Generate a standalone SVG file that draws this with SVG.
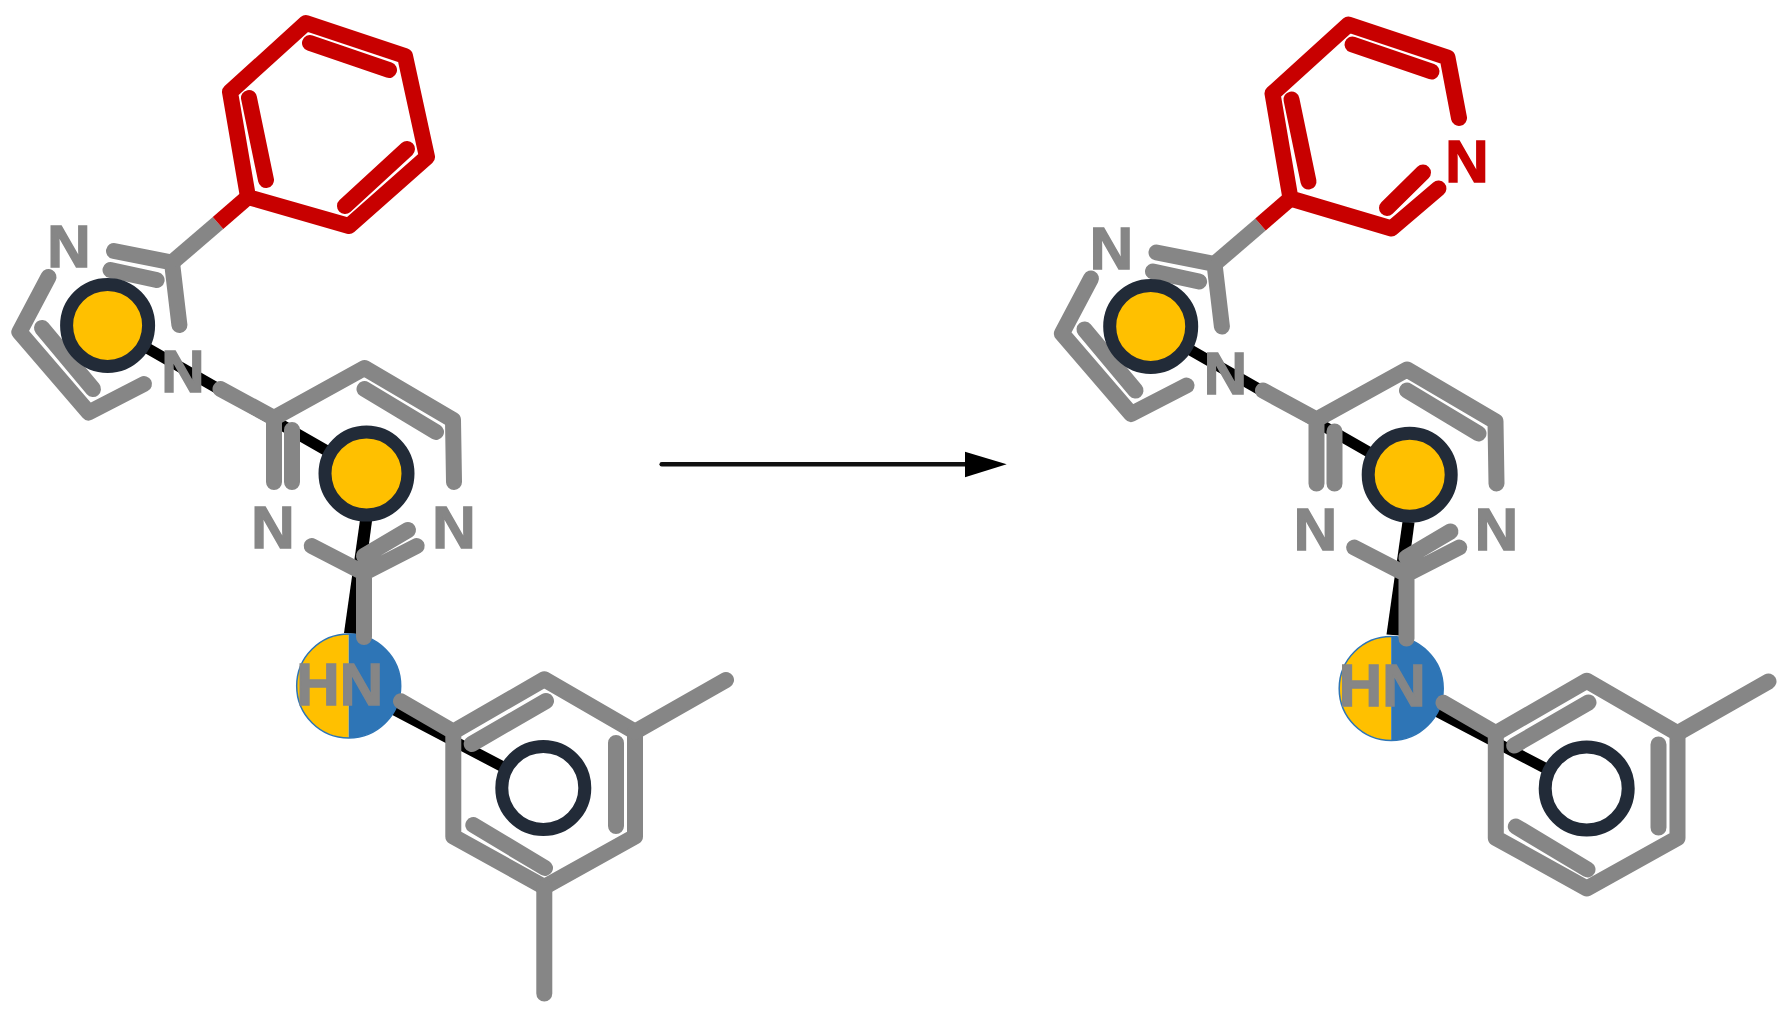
<svg xmlns="http://www.w3.org/2000/svg" width="1788" height="1010" viewBox="0 0 1788 1010">
<style>
.g{fill:none;stroke:#868686;stroke-width:16;stroke-linecap:round;stroke-linejoin:round}
.r{fill:none;stroke:#c80000;stroke-width:16;stroke-linecap:round;stroke-linejoin:round}
.b{fill:none;stroke:#868686;stroke-width:16;stroke-linecap:butt}
.k{fill:none;stroke:#000;stroke-width:11}
.w{fill:#000}
.a{font-family:"Liberation Sans",Arial,sans-serif;font-weight:bold;font-size:60px;fill:#868686;stroke:#868686;stroke-width:1.5;text-anchor:middle}
.ar{fill:#c80000;stroke:#c80000}
.h{stroke:#222b38;stroke-width:13;fill:#ffc000}
.o{stroke:#222b38;stroke-width:13;fill:#fff}
</style>
<rect width="1788" height="1010" fill="#fff"/>
<g id="connectors">
<g id="left-contacts">
<path class="k" d="M107.6 325.4L366.5 473.6M348.7 686L543.3 788"/>
<path class="w" d="M360 520L372 521L357 634L344 633Z"/>
</g>
<g id="right-contacts" transform="translate(1042.5,1.5)">
<path class="k" d="M107.6 325.4L366.5 473.6M348.7 686L543.3 788"/>
<path class="w" d="M360 520L372 521L357 634L344 633Z"/>
</g>
</g>
<g id="left-hn-site">
<path fill="#ffc000" d="M348.7 634A52 52 0 0 0 348.7 738Z"/>
<path fill="#2e75b6" d="M348.7 634A52 52 0 0 1 348.7 738Z"/>
<circle cx="348.7" cy="686" r="52" fill="none" stroke="#2e75b6" stroke-width="1.5"/>
</g>
<g id="right-hn-site" transform="translate(1042.5,2.5)">
<path fill="#ffc000" d="M348.7 634A52 52 0 0 0 348.7 738Z"/>
<path fill="#2e75b6" d="M348.7 634A52 52 0 0 1 348.7 738Z"/>
<circle cx="348.7" cy="686" r="52" fill="none" stroke="#2e75b6" stroke-width="1.5"/>
</g>
<g id="left-molecule">
<path class="g" d="M172 262.5L114 251M172 262.5L179.4 325M156.6 280L110.5 270"/>
<path class="b" d="M172 262.5L218 223"/>
<path class="r" d="M248 197L349 226L427 157L405 56L306 23L230 92L248 197"/>
<path class="r" d="M310 43L389 70M249 98L266 180M407 149L345 206"/>
<path class="r" style="stroke-linecap:butt" d="M218 223L248 197"/>
<path class="g" d="M48.5 277L19.4 332L88.7 412.5L144 384M42 328L93 389"/>
<path class="g" d="M220.5 389L274 418L364.5 368L453 420L454 482M274 418L274 482M292 430L292 482M364.5 389L436 432"/>
<path class="g" d="M311.7 546L364 573L416.7 546M364 556L408 530M364 573L364 637"/>
<path class="g" d="M401 701.3L453.3 731.7L544.3 679.3L635 731.7L635 836.4L544.3 887L453.3 836.4L453.3 731.7"/>
<path class="g" d="M635 731.7L726 680M544.3 887L544.3 993.5M471.7 744L546 701M616 743L616 826M473.3 825L545 868"/>
<text class="a" x="69" y="267">N</text>
<text class="a" x="183" y="392">N</text>
<text class="a" x="273" y="548">N</text>
<text class="a" x="454" y="548">N</text>
<text class="a" x="339.7" y="704.7">HN</text>
</g>
<g id="right-molecule" transform="translate(1042.5,1.5)">
<path class="g" d="M172 262.5L114 251M172 262.5L179.4 325M156.6 280L110.5 270"/>
<path class="b" d="M172 262.5L218 223"/>
<path class="r" d="M248 197L349 227L395.9 187M248 197L230 92L306 23L405 56L416.5 116.5"/>
<path class="r" d="M310 43L389 70M249 98L266 180M380.5 171L344.5 206.5"/>
<path class="r" style="stroke-linecap:butt" d="M218 223L248 197"/>
<path class="g" d="M48.5 277L19.4 332L88.7 412.5L144 384M42 328L93 389"/>
<path class="g" d="M220.5 389L274 418L364.5 368L453 420L454 482M274 418L274 482M292 430L292 482M364.5 389L436 432"/>
<path class="g" d="M311.7 546L364 573L416.7 546M364 556L408 530M364 573L364 637"/>
<path class="g" d="M401 701.3L453.3 731.7L544.3 679.3L635 731.7L635 836.4L544.3 887L453.3 836.4L453.3 731.7"/>
<path class="g" d="M635 731.7L726 680M471.7 744L546 701M616 743L616 826M473.3 825L545 868"/>
<text class="a" x="69" y="267">N</text>
<text class="a" x="183" y="392">N</text>
<text class="a" x="273" y="548">N</text>
<text class="a" x="454" y="548">N</text>
<text class="a" x="339.7" y="704.7">HN</text>
<text class="a ar" x="424.5" y="180.5">N</text>
</g>
<g id="left-site-1"><circle class="h" cx="107.6" cy="325.4" r="41"/></g>
<g id="left-site-2"><circle class="h" cx="366.5" cy="473.6" r="41.5"/></g>
<g id="left-site-3"><circle class="o" cx="543.3" cy="788" r="41.5"/></g>
<g id="right-site-1"><circle class="h" cx="1150.7" cy="326.4" r="41"/></g>
<g id="right-site-2"><circle class="h" cx="1409.7" cy="474.8" r="41.5"/></g>
<g id="right-site-3"><circle class="o" cx="1586.7" cy="788.5" r="41.5"/></g>
<g id="reaction-arrow">
<path d="M661.7 464.3H966" stroke="#111" stroke-width="4.5" fill="none" stroke-linecap="round"/>
<path d="M965 451.7L1006.7 464.3L965 477.3Z" fill="#000"/>
</g>
</svg>
